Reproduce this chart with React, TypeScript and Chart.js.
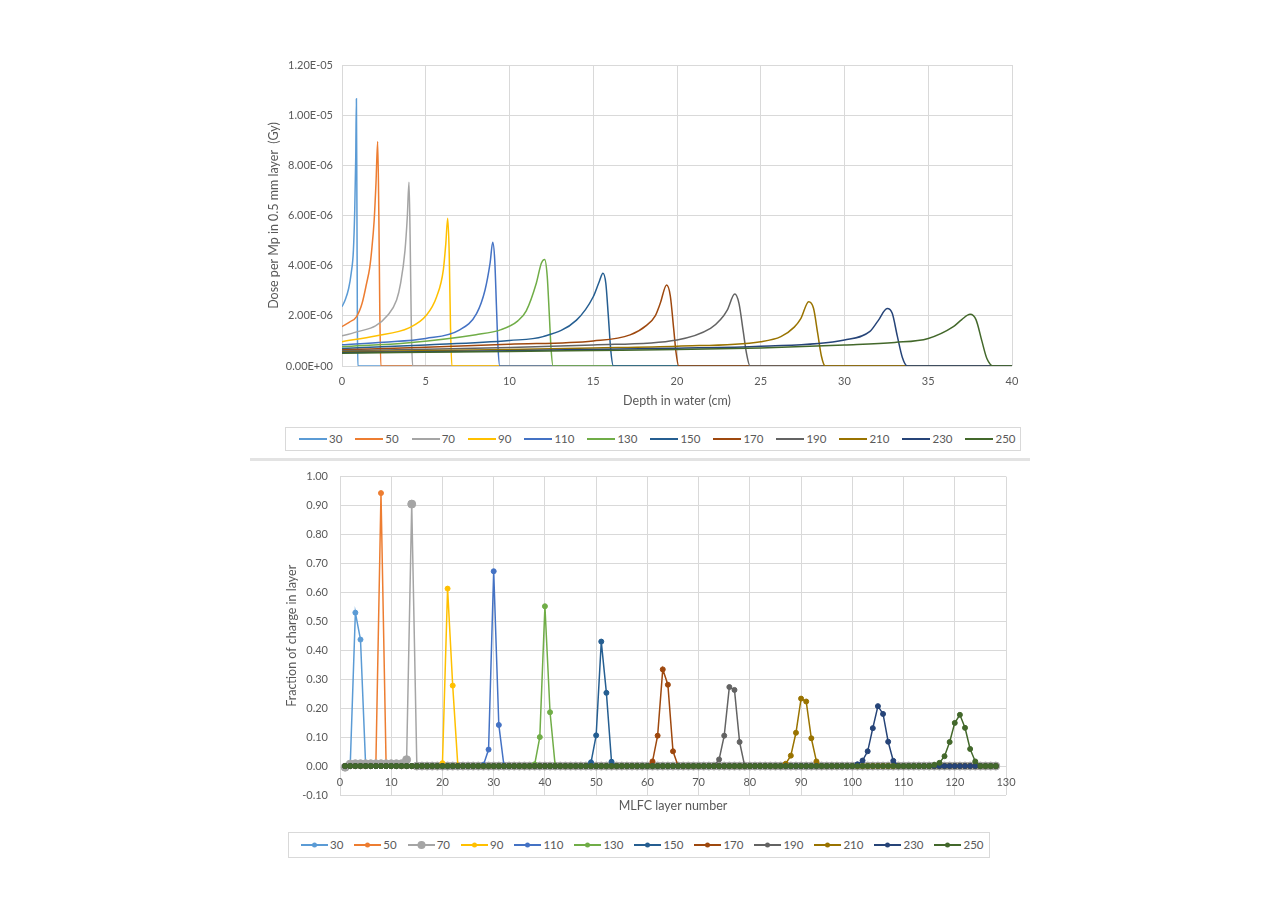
import { useEffect, useRef } from "react";
import { Chart, registerables } from "chart.js";

Chart.register(...registerables);

Chart.defaults.font.family = 'Lato, "Noto Sans", sans-serif';
Chart.defaults.color = "#595959";

const energies = ["30", "50", "70", "90", "110", "130", "150", "170", "190", "210", "230", "250"];
const colors = [
  "#5B9BD5", "#ED7D31", "#A5A5A5", "#FFC000", "#4472C4", "#70AD47",
  "#255E91", "#9E480E", "#636363", "#997300", "#264478", "#43682B",
];

// top panel: depth (cm) and dose per Mp (units of 1E-06 Gy)
const depth30 = [0, 0.2, 0.4, 0.55, 0.68, 0.76, 0.82, 0.86, 0.89, 0.92, 0.95, 40];
const dose30 = [2.36, 2.65, 3.1, 3.7, 4.6, 6.2, 8.3, 10.65, 6.5, 1.5, 0, 0];
const depth50 = [0, 0.45, 0.87, 1.2, 1.47, 1.65, 1.77, 1.92, 2.03, 2.13, 2.2, 2.26, 2.32, 40];
const dose50 = [1.57, 1.75, 1.97, 2.5, 3.3, 3.9, 4.6, 5.8, 7.3, 8.95, 6.0, 2.0, 0, 0];
const depth70 = [0, 1, 2, 2.7, 3.26, 3.5, 3.76, 3.9, 4.0, 4.07, 4.14, 4.22, 40];
const dose70 = [1.2, 1.38, 1.6, 2.0, 2.63, 3.3, 4.6, 5.96, 7.33, 5.0, 1.5, 0, 0];
const depth90 = [0, 2, 4, 5.05, 5.65, 6.05, 6.2, 6.31, 6.4, 6.48, 6.56, 40];
const dose90 = [0.97, 1.2, 1.52, 2.03, 2.76, 3.83, 4.9, 5.89, 4.5, 1.5, 0, 0];
const depth110 = [0, 2.5, 5, 7, 8.04, 8.54, 8.84, 9.0, 9.12, 9.22, 9.31, 9.42, 40];
const dose110 = [0.85, 0.95, 1.1, 1.43, 2.1, 3.03, 4.1, 4.93, 4.2, 2.4, 0.8, 0, 0];
const depth130 = [0, 4, 8, 9.5, 10.5, 11.0, 11.6, 11.9, 12.1, 12.25, 12.38, 12.48, 12.6, 40];
const dose130 = [0.77, 0.93, 1.25, 1.45, 1.8, 2.2, 3.3, 4.1, 4.25, 3.6, 2.0, 0.7, 0, 0];
const depth150 = [0, 5, 10, 12, 14, 15, 15.35, 15.58, 15.75, 15.9, 16.05, 16.2, 40];
const dose150 = [0.7, 0.84, 1.02, 1.17, 1.83, 2.76, 3.35, 3.7, 3.3, 2.0, 0.6, 0, 0];
const depth170 = [0, 5, 10, 15, 17.2, 18.2, 18.7, 19.0, 19.38, 19.6, 19.8, 19.95, 20.1, 40];
const dose170 = [0.65, 0.75, 0.87, 1.0, 1.24, 1.63, 2.0, 2.5, 3.23, 2.8, 1.5, 0.5, 0, 0];
const depth190 = [0, 5, 10, 15, 20, 22, 22.6, 23.0, 23.45, 23.7, 23.95, 24.15, 24.36, 40];
const dose190 = [0.61, 0.67, 0.74, 0.84, 1.04, 1.5, 1.85, 2.23, 2.87, 2.5, 1.4, 0.5, 0, 0];
const depth210 = [0, 10, 15, 20, 25, 26.2, 27.0, 27.4, 27.86, 28.15, 28.4, 28.62, 28.85, 40];
const dose210 = [0.57, 0.66, 0.72, 0.79, 0.97, 1.17, 1.55, 1.9, 2.56, 2.3, 1.3, 0.4, 0, 0];
const depth230 = [0, 10, 15, 20, 25, 30, 31.5, 32.0, 32.55, 32.85, 33.15, 33.45, 33.75, 40];
const dose230 = [0.54, 0.61, 0.66, 0.71, 0.79, 1.04, 1.37, 1.8, 2.29, 2.1, 1.2, 0.35, 0, 0];
const depth250 = [0, 10, 15, 20, 25, 30, 33, 35, 36.5, 37.0, 37.5, 37.85, 38.2, 38.5, 38.9, 40];
const dose250 = [0.51, 0.58, 0.62, 0.66, 0.72, 0.84, 0.94, 1.1, 1.57, 1.85, 2.06, 1.85, 1.0, 0.3, 0, 0];

const depthCurves = [depth30, depth50, depth70, depth90, depth110, depth130, depth150, depth170, depth190, depth210, depth230, depth250];
const doseCurves = [dose30, dose50, dose70, dose90, dose110, dose130, dose150, dose170, dose190, dose210, dose230, dose250];

// bottom panel: MLFC layers 1..128, fraction of charge (zero outside the listed layers)
const layerNumbers = Array.from({ length: 128 }, (_, i) => i + 1);
const peakLayers30 = [2, 3, 4, 5];
const peakFrac30 = [0.004, 0.53, 0.437, 0.004];
const peakLayers50 = [7, 8, 9];
const peakFrac50 = [0.005, 0.943, 0.005];
const peakLayers70 = [1, 2, 3, 4, 5, 6, 7, 8, 9, 10, 11, 12, 13, 14, 15];
const peakFrac70 = [-0.004, 0.007, 0.008, 0.008, 0.008, 0.008, 0.008, 0.008, 0.008, 0.008, 0.008, 0.008, 0.022, 0.905, 0];
const peakLayers90 = [20, 21, 22, 23];
const peakFrac90 = [0.01, 0.613, 0.278, 0.002];
const peakLayers110 = [28, 29, 30, 31, 32];
const peakFrac110 = [0.004, 0.057, 0.673, 0.142, 0.002];
const peakLayers130 = [38, 39, 40, 41, 42];
const peakFrac130 = [0.006, 0.1, 0.552, 0.186, 0.002];
const peakLayers150 = [49, 50, 51, 52, 53];
const peakFrac150 = [0.013, 0.106, 0.43, 0.253, 0.015];
const peakLayers170 = [61, 62, 63, 64, 65];
const peakFrac170 = [0.016, 0.105, 0.334, 0.281, 0.051];
const peakLayers190 = [74, 75, 76, 77, 78];
const peakFrac190 = [0.023, 0.105, 0.273, 0.263, 0.083];
const peakLayers210 = [87, 88, 89, 90, 91, 92, 93];
const peakFrac210 = [0.008, 0.036, 0.115, 0.233, 0.223, 0.096, 0.016];
const peakLayers230 = [101, 102, 103, 104, 105, 106, 107, 108];
const peakFrac230 = [0.006, 0.019, 0.051, 0.131, 0.207, 0.18, 0.084, 0.018];
const peakLayers250 = [116, 117, 118, 119, 120, 121, 122, 123, 124];
const peakFrac250 = [0.004, 0.011, 0.034, 0.083, 0.149, 0.177, 0.132, 0.059, 0.016];

const peakLayers = [peakLayers30, peakLayers50, peakLayers70, peakLayers90, peakLayers110, peakLayers130, peakLayers150, peakLayers170, peakLayers190, peakLayers210, peakLayers230, peakLayers250];
const peakFracs = [peakFrac30, peakFrac50, peakFrac70, peakFrac90, peakFrac110, peakFrac130, peakFrac150, peakFrac170, peakFrac190, peakFrac210, peakFrac230, peakFrac250];

const GRID = "#d9d9d9";
const TEXT = "#595959";

function sci(v: number) {
  if (Math.abs(v) < 1e-15) return "0.00E+00";
  const [m, e] = v.toExponential(2).split("e");
  const n = parseInt(e, 10);
  return `${m}E${n < 0 ? "-" : "+"}${String(Math.abs(n)).padStart(2, "0")}`;
}

function layerSeries(layersIn: number[], fracs: number[]) {
  return layerNumbers.map((layer) => {
    const k = layersIn.indexOf(layer);
    return { x: layer, y: k >= 0 ? fracs[k] : 0 };
  });
}

function DoseChart() {
  const canvasRef = useRef<HTMLCanvasElement>(null);
  const chartRef = useRef<Chart | null>(null);

  useEffect(() => {
    if (!canvasRef.current) return;
    if (chartRef.current) chartRef.current.destroy();

    const config: any = {
      type: "line",
      data: {
        datasets: energies.map((label, i) => ({
          label,
          data: depthCurves[i].map((x, j) => ({ x, y: doseCurves[i][j] })),
          borderColor: colors[i],
          backgroundColor: colors[i],
          borderWidth: 1.5,
          pointRadius: 0,
          cubicInterpolationMode: "monotone",
          order: energies.length - i,
        })),
      },
      options: {
        animation: false,
        responsive: true,
        maintainAspectRatio: false,
        layout: { padding: { left: 262, right: 268, top: 65, bottom: 8 } },
        plugins: { legend: { display: false }, tooltip: { enabled: false } },
        scales: {
          x: {
            type: "linear",
            min: 0,
            max: 40,
            ticks: { stepSize: 5, padding: 9, color: TEXT, font: { size: 11 } },
            grid: { color: GRID, drawTicks: false },
            border: { display: false },
            title: { display: true, text: "Depth in water (cm)", color: TEXT, font: { size: 12.5 } },
            afterFit: (s: any) => { s.height = 46; },
          },
          y: {
            min: 0,
            max: 12,
            ticks: { stepSize: 2, padding: 9, color: TEXT, font: { size: 11 }, callback: (v: number) => sci(v * 1e-6) },
            grid: { color: GRID, drawTicks: false },
            border: { display: false },
            title: { display: true, text: "Dose per Mp in 0.5 mm layer  (Gy)", color: TEXT, font: { size: 12.5 } },
            afterFit: (s: any) => { s.width = 80; },
          },
        },
      },
    };

    chartRef.current = new Chart(canvasRef.current, config);
    return () => {
      if (chartRef.current) chartRef.current.destroy();
      chartRef.current = null;
    };
  }, []);

  return (
    <div style={{ position: "absolute", left: 0, top: 0, width: 1280, height: 420 }}>
      <canvas ref={canvasRef} />
    </div>
  );
}

function ChargeChart() {
  const canvasRef = useRef<HTMLCanvasElement>(null);
  const chartRef = useRef<Chart | null>(null);

  useEffect(() => {
    if (!canvasRef.current) return;
    if (chartRef.current) chartRef.current.destroy();

    const config: any = {
      type: "line",
      data: {
        datasets: energies.map((label, i) => ({
          label,
          data: layerSeries(peakLayers[i], peakFracs[i]),
          borderColor: colors[i],
          backgroundColor: colors[i],
          borderWidth: 1.5,
          pointRadius: label === "70" ? 4 : 2.5,
          pointBorderWidth: 1,
          pointBackgroundColor: colors[i],
          pointBorderColor: colors[i],
          tension: 0,
          order: energies.length - i,
        })),
      },
      options: {
        animation: false,
        responsive: true,
        maintainAspectRatio: false,
        layout: { padding: { left: 280, right: 274, top: 5, bottom: 23 } },
        plugins: { legend: { display: false }, tooltip: { enabled: false } },
        scales: {
          x: {
            type: "linear",
            position: { y: 0 },
            min: 0,
            max: 130,
            ticks: { stepSize: 10, padding: 10, color: TEXT, font: { size: 11 } },
            grid: { color: GRID, drawTicks: false },
            border: { display: false },
            title: { display: true, text: "MLFC layer number", color: TEXT, font: { size: 12.5 } },
            afterFit: (s: any) => { s.height = 51; },
          },
          y: {
            min: -0.1,
            max: 1.0,
            ticks: { stepSize: 0.1, padding: 12, color: TEXT, font: { size: 11 }, callback: (v: number) => v.toFixed(2) },
            grid: { color: GRID, drawTicks: false },
            border: { display: false },
            title: { display: true, text: "Fraction of charge in layer", color: TEXT, font: { size: 12.5 } },
            afterFit: (s: any) => { s.width = 60; },
          },
        },
      },
    };

    chartRef.current = new Chart(canvasRef.current, config);
    return () => {
      if (chartRef.current) chartRef.current.destroy();
      chartRef.current = null;
    };
  }, []);

  return (
    <div style={{ position: "absolute", left: 0, top: 458, width: 1280, height: 360 }}>
      <canvas ref={canvasRef} />
    </div>
  );
}

interface LegendProps {
  left: number;
  top: number;
  width: number;
  height: number;
  padLeft: number;
  gap: number;
  lineLen: number;
  markers: boolean;
}

function Legend({ left, top, width, height, padLeft, gap, lineLen, markers }: LegendProps) {
  return (
    <div
      style={{
        position: "absolute", left, top, width, height, boxSizing: "border-box",
        border: `1px solid ${GRID}`, display: "flex", alignItems: "center",
        paddingLeft: padLeft, gap, fontFamily: 'Lato, "Noto Sans", sans-serif',
        fontSize: 11.5, color: TEXT, whiteSpace: "nowrap",
      }}
    >
      {energies.map((label, i) => (
        <div key={label} style={{ display: "flex", alignItems: "center", gap: 2 }}>
          <svg width={lineLen} height={10} style={{ display: "block" }}>
            <line x1={0} y1={5} x2={lineLen} y2={5} stroke={colors[i]} strokeWidth={2} />
            {markers && <circle cx={lineLen / 2} cy={5} r={label === "70" ? 4 : 2.5} fill={colors[i]} />}
          </svg>
          <span style={{ lineHeight: "14px" }}>{label}</span>
        </div>
      ))}
    </div>
  );
}

export default function App() {
  return (
    <div style={{ position: "absolute", left: 0, top: 0, width: 1280, height: 915, background: "#fff" }}>
      <DoseChart />
      <Legend left={285} top={427} width={736} height={24} padLeft={13} gap={13} lineLen={28} markers={false} />
      <div style={{ position: "absolute", left: 250, top: 458, width: 780, height: 3, background: "#e3e3e3" }} />
      <ChargeChart />
      <Legend left={288} top={832} width={702} height={26} padLeft={12} gap={11} lineLen={27} markers={true} />
    </div>
  );
}
